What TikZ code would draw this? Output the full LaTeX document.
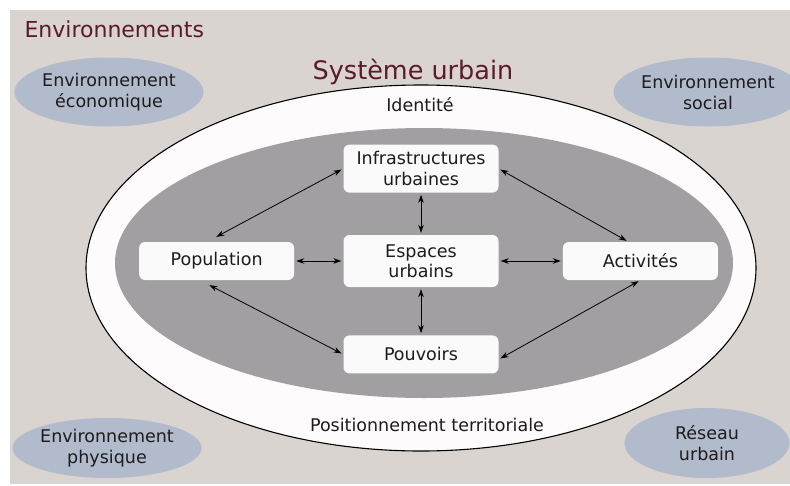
\documentclass[tikz,border=0pt]{standalone}
\usepackage{fontspec}
\setmainfont{DejaVu Sans}
\usepackage{xcolor}
\usepackage{tikz}
\usetikzlibrary{positioning, arrows.meta, shapes.geometric}

\definecolor{fond}{HTML}{DAD4D0}
\definecolor{envbleu}{HTML}{B2BBCB}
\definecolor{grisint}{HTML}{A19FA1}
\definecolor{blanc}{HTML}{FDFBFC}
\definecolor{boite}{HTML}{FAFAFA}
\definecolor{bordeaux}{HTML}{5B1A2C}
\definecolor{texte}{HTML}{1C1C1C}

\begin{document}
\begin{tikzpicture}[x=1pt, y=-1pt, >={Stealth[length=8pt, width=5.5pt]},
    box/.style={fill=boite, rounded corners=6pt, minimum width=155pt, minimum height=38pt,
        align=center, text=texte, font=\fontsize{17.5}{20.5}\selectfont},
    env/.style={ellipse, fill=envbleu, inner sep=0pt, align=center, text=texte,
        font=\fontsize{17.5}{21}\selectfont},
    lien/.style={<->, line width=0.8pt, shorten >=2pt, shorten <=2pt}]
    \useasboundingbox (0,0) rectangle (790,485);
    \fill[fond] (10,10) rectangle (790,484);

    % Environnements
    \node[anchor=base west, text=bordeaux, font=\fontsize{22}{25}\selectfont] (titre) at (21,37) {Environnements};
    \node[env, minimum width=168pt, minimum height=69pt] (eco) at (109,92) {Environnement\\économique};
    \node[env, minimum width=166pt, minimum height=69pt] (social) at (708,92) {Environnement\\social};
    \node[env, minimum width=169pt, minimum height=60pt] (physique) at (107,448) {Environnement\\physique};
    \node[env, minimum width=165pt, minimum height=70pt] (reseau) at (707,443) {Réseau\\urbain};

    % Systeme urbain
    \filldraw[fill=blanc, draw=black, line width=1.1pt] (421,268) ellipse [x radius=335, y radius=183];
    \fill[grisint] (424,263) ellipse [x radius=309, y radius=135];
    \node[anchor=base, text=bordeaux, font=\fontsize{25.5}{29}\selectfont] (systeme) at (413,79) {Système urbain};
    \node[text=texte, font=\fontsize{17.5}{21}\selectfont] (identite) at (420,105) {Identité};
    \node[text=texte, font=\fontsize{17.5}{21}\selectfont] (position) at (427,425) {Positionnement territoriale};

    % Boites
    \node[box, minimum height=52pt] (espaces) at (421,261) {Espaces\\urbains};
    \node[box, minimum height=48pt, above=42pt of espaces] (infra) {Infrastructures\\urbaines};
    \node[box, below=48pt of espaces] (pouvoirs) {Pouvoirs};
    \node[box, left=49pt of espaces] (population) {Population};
    \node[box, right=64pt of espaces] (activites) {Activités};

    % Fleches
    \draw[lien] (infra.west) -- ([xshift=-2pt, yshift=4pt]population.north);
    \draw[lien] (infra.east) -- ([xshift=-12pt]activites.north);
    \draw[lien] (infra.south) -- (espaces.north);
    \draw[lien] (population.east) -- (espaces.west);
    \draw[lien] (espaces.east) -- (activites.west);
    \draw[lien] (espaces.south) -- (pouvoirs.north);
    \draw[lien] ([xshift=-9pt, yshift=-4pt]population.south) -- (pouvoirs.west);
    \draw[lien] ([yshift=-5pt]pouvoirs.east) -- (activites.south);
\end{tikzpicture}
\end{document}
